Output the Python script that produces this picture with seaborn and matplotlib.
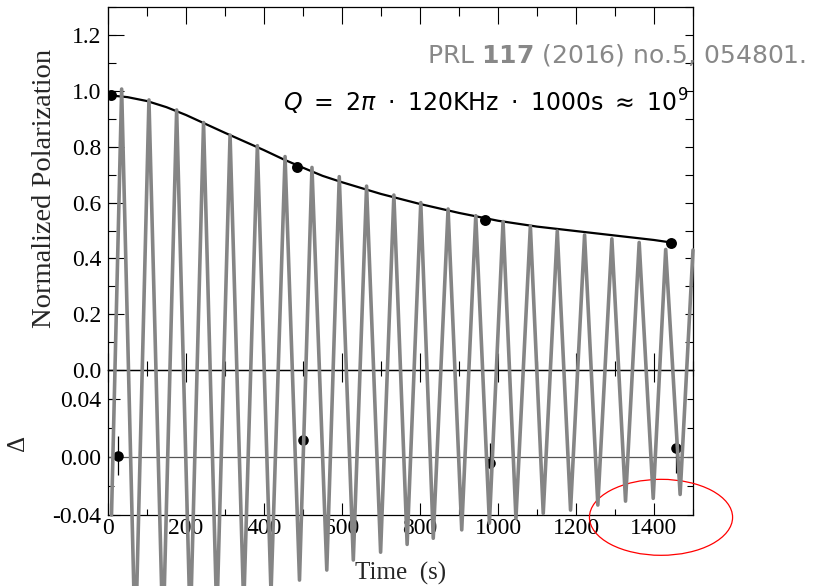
import matplotlib
matplotlib.use("Agg")
import matplotlib.pyplot as plt
from matplotlib.patches import Ellipse
from matplotlib.ticker import MultipleLocator, FormatStrFormatter
import seaborn as sns

# =============================
# DATA
# =============================

# gray oscillation, extrema in units of the upper panel
osc_t = [9, 35, 70, 105, 141, 176, 211, 245, 279, 313, 348, 383, 418, 454,
         491, 523, 561, 593, 629, 663, 699, 733, 767, 802, 834, 872, 907, 943,
         978, 1013, 1046, 1083, 1116, 1152, 1186, 1222, 1256, 1292, 1327, 1362,
         1398, 1430, 1467, 1500]
osc_p = [-0.52, 1.007, -1.00, 0.968, -0.97, 0.932, -0.93, 0.887, -0.89, 0.842,
         -0.85, 0.804, -0.80, 0.765, -0.753, 0.726, -0.717, 0.693, -0.681, 0.659,
         -0.653, 0.627, -0.625, 0.600, -0.603, 0.577, -0.573, 0.553, -0.549, 0.532,
         -0.532, 0.516, -0.514, 0.498, -0.502, 0.484, -0.484, 0.470, -0.470, 0.457,
         -0.460, 0.432, -0.446, 0.43]

# fitted envelope (black line)
fit_t = [0, 50, 100, 150, 200, 250, 300, 350, 400, 450, 500, 550, 600, 700,
         800, 900, 1000, 1100, 1200, 1300, 1400, 1444]
fit_p = [0.985, 0.978, 0.964, 0.942, 0.914, 0.882, 0.850, 0.819, 0.788, 0.755,
         0.725, 0.696, 0.673, 0.631, 0.595, 0.563, 0.535, 0.514, 0.498, 0.482,
         0.466, 0.457]

# measured polarization (upper panel dots)
pol_t = [8, 484, 966, 1444]
pol_p = [0.984, 0.729, 0.538, 0.456]

# residuals (lower panel)
res_t = [25, 501, 979, 1457]
res_d = [0.001, 0.012, -0.004, 0.006]
res_err = [0.0135, 0.0, 0.0135, 0.017]

# =============================
# STYLE
# =============================
sns.set_theme(style="ticks")
plt.rcParams["font.family"] = ["Liberation Serif", "DejaVu Serif"]
plt.rcParams["axes.unicode_minus"] = False
plt.rcParams["mathtext.fontset"] = "dejavusans"
plt.rcParams["axes.edgecolor"] = "black"
plt.rcParams["axes.linewidth"] = 0.9
plt.rcParams["xtick.color"] = "black"
plt.rcParams["ytick.color"] = "black"

fig = plt.figure(figsize=(8.16, 5.86), dpi=100)
ax_bot = fig.add_axes([0.13235, 0.12116, 0.71691, 0.24744])
ax = fig.add_axes([0.13235, 0.36860, 0.71691, 0.61894])
ax.set_zorder(2)
ax.patch.set_visible(False)

# =============================
# UPPER PANEL
# =============================
sns.lineplot(x=fit_t, y=fit_p, ax=ax, color="black", linewidth=1.6,
             sort=False, estimator=None, zorder=2)
sns.lineplot(x=osc_t, y=osc_p, ax=ax, color="#858585", linewidth=2.6,
             sort=False, estimator=None, solid_joinstyle="round",
             clip_on=False, zorder=3)
sns.scatterplot(x=pol_t, y=pol_p, ax=ax, color="black", s=62, linewidth=0,
                zorder=4)

ax.set_xlim(0, 1500)
ax.set_ylim(0, 1.3)
ax.xaxis.set_major_locator(MultipleLocator(200))
ax.xaxis.set_minor_locator(MultipleLocator(100))
ax.yaxis.set_major_locator(MultipleLocator(0.2))
ax.yaxis.set_minor_locator(MultipleLocator(0.1))
ax.yaxis.remove_overlapping_locs = False
ax.yaxis.set_major_formatter(FormatStrFormatter("%.1f"))
ax.tick_params(axis="x", which="both", direction="in", top=True, bottom=True,
               labelbottom=False, width=0.8)
ax.tick_params(axis="x", which="major", length=12.5)
ax.tick_params(axis="x", which="minor", length=6.5)
ax.tick_params(axis="y", which="major", direction="in", left=True, right=False,
               length=11.5, width=0.8, labelsize=17, pad=5)
ax.tick_params(axis="y", which="minor", direction="in", left=True, right=True,
               length=6, width=0.8)
ax.set_xlabel("")
ax.set_ylabel("Normalized Polarization", fontsize=20.5)
ax.yaxis.set_label_coords(-0.087, 0.5)

# =============================
# LOWER PANEL (residuals)
# =============================
ax_bot.axhline(0, color="#555555", linewidth=0.9, zorder=1)
ax_bot.errorbar(res_t, res_d, yerr=res_err, fmt="none", ecolor="black",
                elinewidth=0.9, zorder=2)
sns.scatterplot(x=res_t, y=res_d, ax=ax_bot, color="black", s=58, linewidth=0,
                zorder=3)

ax_bot.set_xlim(0, 1500)
ax_bot.set_ylim(-0.04, 0.06)
ax_bot.xaxis.set_major_locator(MultipleLocator(200))
ax_bot.xaxis.set_minor_locator(MultipleLocator(100))
ax_bot.yaxis.set_major_locator(MultipleLocator(0.04))
ax_bot.yaxis.set_minor_locator(MultipleLocator(0.02))
ax_bot.yaxis.remove_overlapping_locs = False
ax_bot.yaxis.set_major_formatter(FormatStrFormatter("%.2f"))
ax_bot.tick_params(axis="x", which="both", direction="in", top=True,
                   bottom=True, width=0.8, labelsize=17, pad=2)
ax_bot.tick_params(axis="x", which="major", length=8.3)
ax_bot.tick_params(axis="x", which="minor", length=4.3)
ax_bot.tick_params(axis="y", which="major", direction="in", left=True,
                   right=False, length=8.3, width=0.8, labelsize=17, pad=5)
ax_bot.tick_params(axis="y", which="minor", direction="in", left=True,
                   right=True, length=4.5, width=0.8)
ax_bot.set_xlabel("Time  (s)", fontsize=18)
ax_bot.xaxis.set_label_coords(0.5, -0.325)
ax_bot.set_ylabel("Δ", fontsize=18)
ax_bot.yaxis.set_label_coords(-0.135, 0.5)

# red mark round the last oscillations
ax_bot.add_patch(Ellipse((1418, -0.0416), width=367, height=0.0524,
                         fill=False, edgecolor="red", linewidth=0.9,
                         clip_on=False, zorder=5))

# =============================
# ANNOTATIONS
# =============================
fig.text(426.7 / 816, 1 - 62.7 / 586, r"PRL $\mathbf{117}$ (2016) no.5, 054801.",
         family="DejaVu Sans", fontsize=18, color="#888888",
         ha="left", va="baseline")
fig.text(283 / 816, 1 - 111.7 / 586,
         r"$Q\ =\ 2\pi\ \cdot\ 120\mathrm{KHz}\ \cdot\ 1000\mathrm{s}\ \approx\ 10^9$",
         family="DejaVu Sans", fontsize=17, color="black",
         ha="left", va="baseline")

fig.savefig("out.png", dpi=100)
